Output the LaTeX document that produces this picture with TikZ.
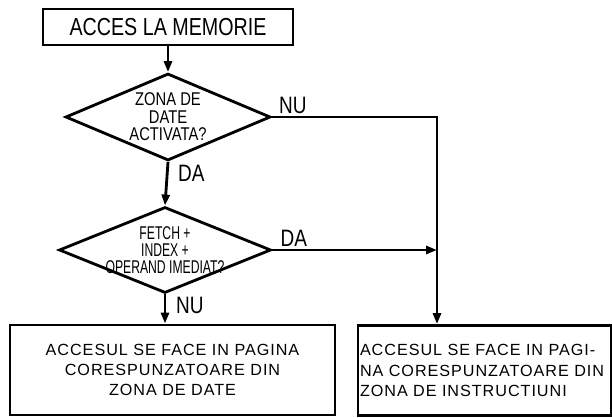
\documentclass[tikz,border=0pt]{standalone}
\usepackage{fontspec}
\setmainfont{Liberation Sans}
\newfontfamily\headfont[FakeStretch=0.8]{Liberation Sans}
\newfontfamily\narrowfont[FakeStretch=0.66]{Liberation Sans}
\newfontfamily\boxfont[LetterSpace=6]{Liberation Sans}
\usetikzlibrary{shapes.geometric, arrows.meta}

\begin{document}
\begin{tikzpicture}[line width=1.6pt,
    flow/.style={-{Triangle[length=2.2mm,width=1.6mm]}},
    titlebox/.style={draw, minimum width=5cm, minimum height=0.72cm,
      font=\headfont\fontsize{14}{15}\selectfont},
    decision/.style={draw, diamond, aspect=2.4, inner ysep=0pt, inner xsep=-6mm,
      align=center, font=\headfont\fontsize{10.5}{10}\selectfont},
    resultbox/.style={draw, minimum height=1.8cm,
      font=\boxfont\fontsize{9.2}{11.6}\selectfont},
    answer/.style={inner sep=1pt, font=\headfont\fontsize{13.5}{14}\selectfont}]
  \useasboundingbox (0,0) rectangle (12.24,8.34);
  % blocks
  \node[titlebox] (start) at (3.36,7.8) {ACCES LA MEMORIE};
  \node[decision, minimum width=4.1cm, minimum height=1.74cm] (zone) at (3.36,6.0)
    {ZONA DE\\DATE\\ACTIVATA?};
  \node[decision, minimum width=4.24cm, minimum height=1.72cm,
    font=\narrowfont\fontsize{10.5}{9.6}\selectfont] (fetch) at (3.3,3.34)
    {FETCH +\\INDEX +\\OPERAND IMEDIAT?};
  \node[resultbox, minimum width=6.5cm, align=center] (datapage) at (3.45,0.94)
    {ACCESUL SE FACE IN PAGINA\\CORESPUNZATOARE DIN\\ZONA DE DATE};
  \node[resultbox, inner xsep=0.04cm, text width=4.98cm, align=left] (codepage) at (9.69,0.93)
    {ACCESUL SE FACE IN PAGI-\\NA CORESPUNZATOARE DIN\\ZONA DE INSTRUCTIUNI};
  \coordinate (corner) at (8.74,6.0);
  % connectors
  \draw[flow] (start) -- (zone);
  \draw[flow] (zone.south) -- (fetch.north);
  \draw[flow] (fetch.south) -- (fetch.south |- datapage.north);
  \draw[flow] (zone.east) -- (corner) -- (corner |- codepage.north);
  \draw[flow] (fetch.east) -- (fetch.east -| corner);
  % answers
  \node[answer, anchor=south west, xshift=0.08cm] (zoneno) at (zone.east) {NU};
  \node[answer, anchor=north west, xshift=0.14cm] (zoneyes) at (zone.south) {DA};
  \node[answer, anchor=south west, xshift=0.1cm] (fetchyes) at (fetch.east) {DA};
  \node[answer, anchor=north west, xshift=0.16cm] (fetchno) at (fetch.south) {NU};
\end{tikzpicture}
\end{document}
